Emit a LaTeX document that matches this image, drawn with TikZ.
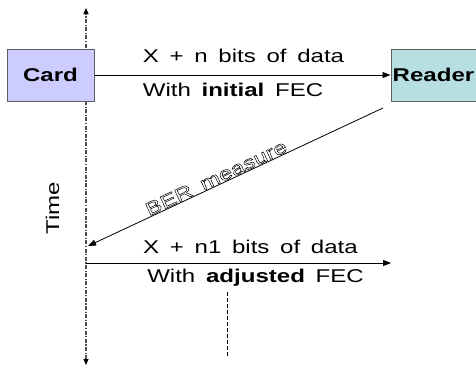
\documentclass[tikz,border=0pt]{standalone}
\usepackage{fontspec}
\setmainfont[FakeStretch=1.3,WordSpace=1.6]{Liberation Sans}
\usetikzlibrary{arrows.meta}
\definecolor{cardfill}{RGB}{204,204,255}
\definecolor{readerfill}{RGB}{183,223,225}
\definecolor{boxline}{RGB}{95,95,95}
\definecolor{axisgray}{RGB}{80,80,80}
\tikzset{
  actor/.style={draw=boxline, line width=1pt, minimum height=52pt, inner sep=0pt,
    font=\fontsize{18.5}{21}\selectfont\bfseries},
  lbl/.style={anchor=base, inner sep=0pt, font=\fontsize{18.5}{20}\selectfont},
  msg/.style={line width=0.8pt, -{Triangle[length=8pt,width=6pt]}},
  timeline/.style={axisgray, line width=1.1pt, dash pattern=on 4pt off 1.5pt on 1.2pt off 1.5pt,
    {Triangle[length=6pt,width=5pt,fill=black,color=black]}-{Triangle[length=6pt,width=5pt,fill=black,color=black]}}
}
\begin{document}
\begin{tikzpicture}[x=1pt,y=-1pt]
\useasboundingbox (0,0) rectangle (476,370);
% time axis
\coordinate (ttop) at (86,8);
\coordinate (tbot) at (86,365);
\draw[timeline] (tbot) -- (ttop);
% boxes
\node[actor, fill=cardfill, minimum width=87pt] (card) at (50.5,75) {Card};
\node[actor, fill=readerfill, minimum width=85pt] (reader) at (433.5,75) {Reader};
% first message
\draw[msg] (card.east) -- (reader.west);
\node[lbl] (l1) at (243.5,62) {X + n bits of data};
\node[lbl] (l2) at (233,96) {With \textbf{initial} FEC};
% BER measure
\coordinate (bs) at (383,108);
\coordinate (be) at (88,246);
\draw[msg] (bs) -- (be)
  node[pos=0.555, sloped, above=0.5pt, inner sep=0pt, font=\fontsize{18.5}{20}\selectfont] (ber)
  {\special{pdf:literal direct 1 Tr 0.5 w}BER measure\special{pdf:literal direct 0 Tr}};
% second message
\coordinate (s2) at (86,263);
\coordinate (e2) at (391,263);
\draw[msg] (s2) -- (e2);
\node[lbl] (l3) at (250.5,253) {X + n1 bits of data};
\node[lbl] (l4) at (255.5,282) {With \textbf{adjusted} FEC};
% dashed continuation
\coordinate (d1) at (227,292);
\coordinate (d2) at (227,358);
\draw[line width=0.6pt, dash pattern=on 4pt off 2pt] (d1) -- (d2);
% time label
\node[rotate=90, inner sep=0pt, font=\fontsize{18.5}{20}\selectfont] (time) at (52.5,208.5) {Time};
\end{tikzpicture}
\end{document}
